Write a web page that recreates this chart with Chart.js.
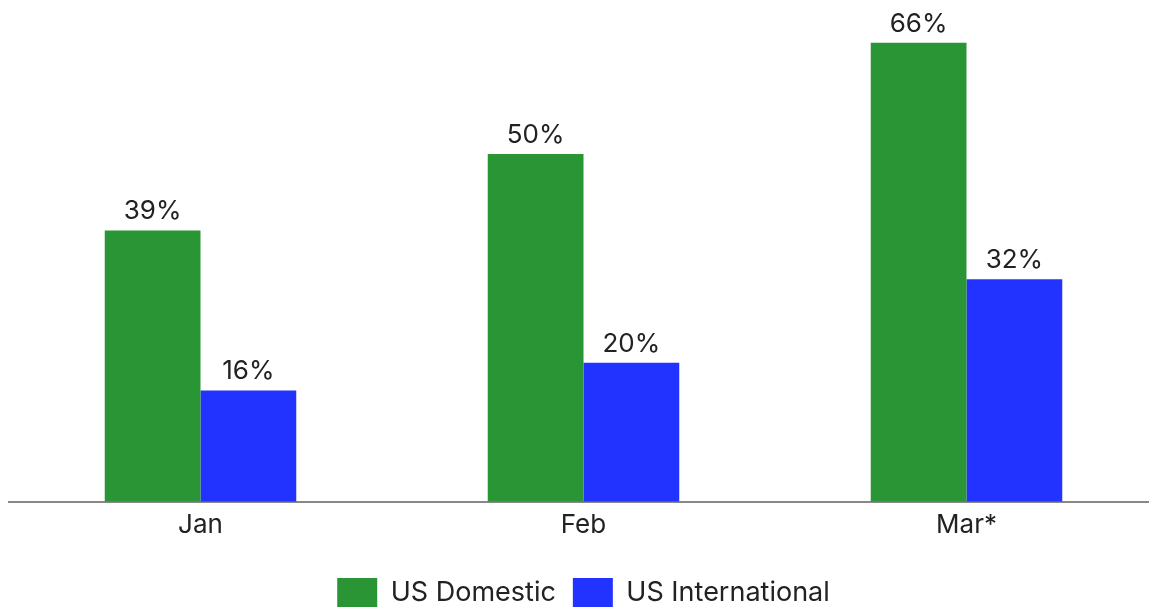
<!DOCTYPE html>
<html>
<head>
<meta charset="utf-8">
<script src="https://cdn.jsdelivr.net/npm/chart.js@4"></script>
<style>
  html, body { margin: 0; padding: 0; background: #fff; overflow: hidden; }
  #wrap { width: 1158px; height: 618px; }
</style>
</head>
<body>
<div id="wrap"><canvas id="grafico" width="1158" height="618"></canvas></div>
<script>
const meses = ["Jan", "Feb", "Mar*"];
const domestico = [39, 50, 66];
const internacional = [16, 20, 32];

// rótulos em cima das barras
const rotulos = {
  id: "rotulos",
  afterDatasetsDraw(chart) {
    const ctx = chart.ctx;
    ctx.save();
    ctx.font = "26px Inter";
    ctx.fillStyle = "#222";
    ctx.textAlign = "center";
    ctx.textBaseline = "bottom";
    chart.data.datasets.forEach((ds, i) => {
      chart.getDatasetMeta(i).data.forEach((bar, j) => {
        ctx.fillText(ds.data[j] + "%", bar.x, bar.y - 6);
      });
    });
    ctx.restore();
  },
};

new Chart(document.getElementById("grafico"), {
  type: "bar",
  data: {
    labels: meses,
    datasets: [
      {
        label: "US Domestic",
        data: domestico,
        backgroundColor: "#2A9535",
      },
      {
        label: "US International",
        data: internacional,
        backgroundColor: "#2233FF",
      },
    ],
  },
  options: {
    responsive: false,
    animation: false,
    layout: { padding: { left: 9, top: 1, right: 0, bottom: 0 } },
    datasets: {
      bar: { categoryPercentage: 0.5, barPercentage: 1.0 },
    },
    plugins: {
      legend: {
        position: "bottom",
        // título vazio só para dar espaço acima da legenda
        title: {
          display: true,
          text: "",
          font: { size: 10 },
          padding: { top: 4, bottom: 4 },
        },
        labels: {
          color: "#222",
          font: { family: "Inter", size: 27 },
          boxWidth: 40,
          boxHeight: 30,
          padding: 17,
        },
      },
      tooltip: { enabled: false },
    },
    scales: {
      x: {
        grid: { display: false },
        border: { color: "#888", width: 2 },
        ticks: {
          color: "#222",
          font: { family: "Inter", size: 26 },
          padding: 0,
        },
      },
      y: {
        display: false,
        min: 0,
        max: 72,
      },
    },
  },
  plugins: [rotulos],
});
</script>
</body>
</html>
